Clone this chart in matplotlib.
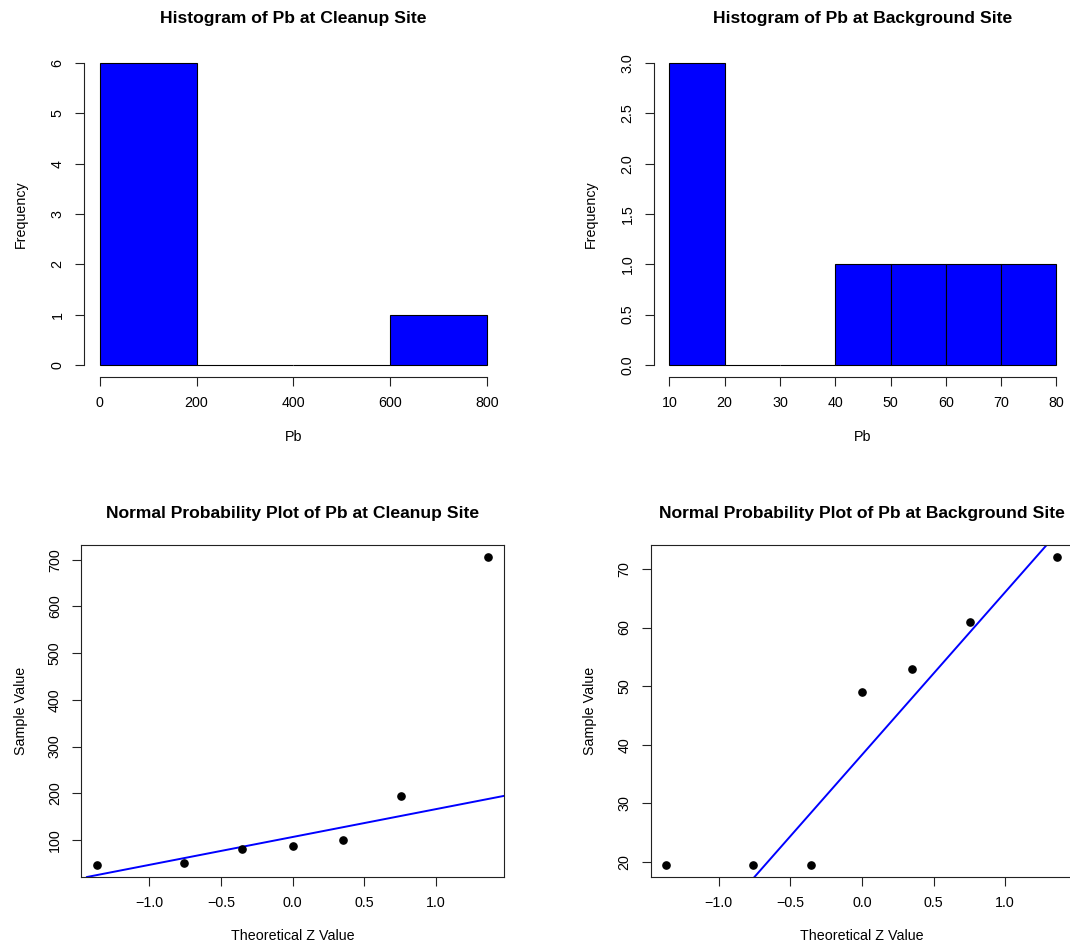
import numpy as np
import matplotlib
matplotlib.use("Agg")
import matplotlib.pyplot as plt

plt.rcParams['font.family'] = ['Liberation Sans', 'DejaVu Sans']

# Lead (Pb) concentrations, sorted
pb_cleanup = [47, 51, 81, 88, 100, 193, 705]
pb_background = [19.5, 19.5, 19.5, 49, 53, 61, 72]

# Normal scores for n = 7 (plotting positions)
z_scores = [-1.365, -0.758, -0.353, 0.0, 0.353, 0.758, 1.365]

bins_cleanup = [0, 200, 400, 600, 800]
bins_background = [10, 20, 30, 40, 50, 60, 70, 80]

hist_yticks_cleanup = [0, 1, 2, 3, 4, 5, 6]
hist_yticks_background = [0.0, 0.5, 1.0, 1.5, 2.0, 2.5, 3.0]
qq_xticks = [-1.0, -0.5, 0.0, 0.5, 1.0]
qq_yticks_cleanup = [100, 200, 300, 400, 500, 600, 700]
qq_yticks_background = [20, 30, 40, 50, 60, 70]

W, H = 1070, 942
fig = plt.figure(figsize=(W / 100, H / 100), dpi=100)


def px_axes(x0, y0, x1, y1):
    return fig.add_axes([x0 / W, 1 - y1 / H, (x1 - x0) / W, (y1 - y0) / H])


TICK_FS = 10.3
LAB_FS = 10.3
TITLE_FS = 12.6
LINE_C = '#222222'


def style_common(ax):
    ax.tick_params(axis='both', direction='out', length=6.5, width=0.8,
                   color=LINE_C, labelsize=TICK_FS, pad=7.5)
    ax.tick_params(axis='x', pad=7.5)
    for lab in ax.get_yticklabels():
        lab.set_rotation(90)
        lab.set_va('center')
    for s in ax.spines.values():
        s.set_color(LINE_C)
        s.set_linewidth(0.8)


def quartile_line(ax, values):
    q1, q3 = np.percentile(values, [25, 75])
    zq = 0.6744897501960817
    slope = (q3 - q1) / (2 * zq)
    inter = (q1 + q3) / 2
    ax.axline((0, inter), slope=slope, color='#0000ff', lw=1.4, zorder=2)


def histogram(ax, data, bins, yticks, title):
    ax.hist(data, bins=bins, color='#0000ff', edgecolor='black', linewidth=0.8)
    pad_x = 0.04 * (bins[-1] - bins[0])
    ax.set_xlim(bins[0] - pad_x, bins[-1] + pad_x)
    pad_y = 0.04 * (yticks[-1] - yticks[0])
    ax.set_ylim(yticks[0] - pad_y, yticks[-1] + pad_y)
    ax.set_xticks(bins)
    ax.set_yticks(yticks)
    ax.set_yticklabels([('%g' % t) if isinstance(t, int) else ('%.1f' % t) for t in yticks])
    ax.spines['top'].set_visible(False)
    ax.spines['right'].set_visible(False)
    ax.spines['left'].set_bounds(yticks[0], yticks[-1])
    ax.spines['bottom'].set_bounds(bins[0], bins[-1])
    ax.set_xlabel('Pb', fontsize=LAB_FS, labelpad=14)
    ax.set_ylabel('Frequency', fontsize=LAB_FS, labelpad=16.5)
    ax.set_title(title, fontsize=TITLE_FS, fontweight='bold', pad=20.4)
    style_common(ax)


def qqplot(ax, values, yticks, title):
    ax.plot(z_scores, values, 'o', color='black', markersize=5.2, zorder=3)
    quartile_line(ax, values)
    pad_x = 0.04 * (z_scores[-1] - z_scores[0])
    ax.set_xlim(z_scores[0] - pad_x, z_scores[-1] + pad_x)
    pad_y = 0.04 * (max(values) - min(values))
    ax.set_ylim(min(values) - pad_y, max(values) + pad_y)
    ax.set_xticks(qq_xticks)
    ax.set_xticklabels(['\u22121.0', '\u22120.5', '0.0', '0.5', '1.0'])
    ax.set_yticks(yticks)
    ax.set_yticklabels([str(t) for t in yticks])
    ax.set_xlabel('Theoretical Z Value', fontsize=LAB_FS, labelpad=13)
    ax.set_ylabel('Sample Value', fontsize=LAB_FS, labelpad=14.5)
    ax.set_title(title, fontsize=TITLE_FS, fontweight='bold', pad=19.2)
    style_common(ax)


ax1 = px_axes(84.1, 51, 502.7, 377)
histogram(ax1, pb_cleanup, bins_cleanup, hist_yticks_cleanup,
          'Histogram of Pb at Cleanup Site')

ax2 = px_axes(653.9, 51, 1071.9, 377)
histogram(ax2, pb_background, bins_background, hist_yticks_background,
          'Histogram of Pb at Background Site')

ax3 = px_axes(81.2, 545, 503.8, 877)
qqplot(ax3, pb_cleanup, qq_yticks_cleanup,
       'Normal Probability Plot of Pb at Cleanup Site')

ax4 = px_axes(650.7, 545, 1073.1, 877)
qqplot(ax4, pb_background, qq_yticks_background,
       'Normal Probability Plot of Pb at Background Site')

fig.savefig('out.png', dpi=100)
